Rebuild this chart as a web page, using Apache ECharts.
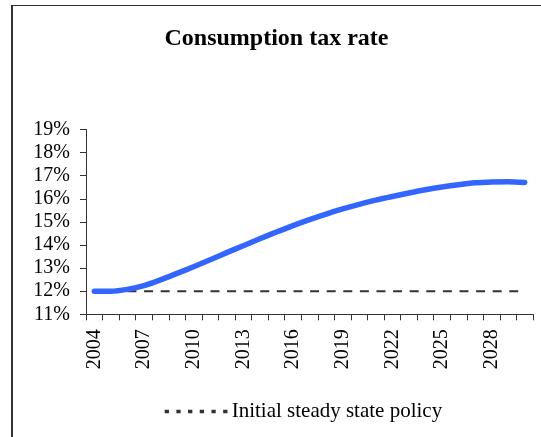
<!DOCTYPE html>
<html>
<head>
<meta charset="utf-8">
<script src="https://cdn.jsdelivr.net/npm/echarts@6/dist/echarts.min.js"></script>
<style>
  html, body { margin: 0; padding: 0; background: #fff; }
  #wrap { position: relative; width: 541px; height: 437px; overflow: hidden; }
  #chart { position: absolute; left: 0; top: 0; width: 541px; height: 437px; }
  #frame { position: absolute; left: 11px; top: 5px; width: 600px; height: 600px;
           border-left: 2px solid #333; border-top: 1px solid #333; pointer-events: none; }
</style>
</head>
<body>
<div id="wrap">
  <div id="chart"></div>
  <div id="frame"></div>
</div>
<script>
// ---- data ----
const chartTitle = 'Consumption tax rate';
const years = ['2004','2005','2006','2007','2008','2009','2010','2011','2012','2013',
               '2014','2015','2016','2017','2018','2019','2020','2021','2022','2023',
               '2024','2025','2026','2027','2028','2029','2030'];
const taxRate = [12.0, 12.0, 12.08, 12.24, 12.49, 12.77, 13.06, 13.36, 13.67, 13.97,
                 14.27, 14.56, 14.84, 15.1, 15.34, 15.56, 15.76, 15.94, 16.1, 16.25,
                 16.39, 16.51, 16.61, 16.69, 16.73, 16.74, 16.71];
const steadyName = 'Initial steady state policy';
const steadyRate = years.map(() => 12.0);
const yMin = 11, yMax = 19, yStep = 1;

const chart = echarts.init(document.getElementById('chart'), null, { renderer: 'canvas' });
const serif = 'Liberation Serif';
chart.setOption({
  animation: false,
  backgroundColor: '#fff',
  title: {
    text: chartTitle,
    left: 271.5,
    textAlign: 'center',
    top: 22,
    textStyle: { fontFamily: serif, fontSize: 24, fontWeight: 'bold', color: '#000' }
  },
  grid: { left: 86, right: 8, top: 129.5, bottom: 122.7, containLabel: false },
  legend: {
    data: [steadyName],
    left: 158,
    top: 396,
    itemWidth: 64,
    itemHeight: 14,
    itemGap: 10,
    textStyle: { fontFamily: serif, fontSize: 21, color: '#000', padding: [0, 0, 0, -2] },
    itemStyle: { opacity: 0 },
    lineStyle: { type: [4.3, 7.4], width: 3.3, color: '#333', cap: 'butt' }
  },
  xAxis: {
    type: 'category',
    data: years,
    boundaryGap: true,
    axisLine: { lineStyle: { color: '#333', width: 1 } },
    axisTick: { show: true, interval: 0, length: 6, inside: false, lineStyle: { color: '#333' } },
    axisLabel: { interval: 2, rotate: 90, margin: 15, fontFamily: serif, fontSize: 20, color: '#000' },
    splitLine: { show: false }
  },
  yAxis: {
    type: 'value',
    min: yMin, max: yMax, interval: yStep,
    axisLine: { show: true, lineStyle: { color: '#333', width: 1 } },
    axisTick: { show: true, length: 6, lineStyle: { color: '#333' } },
    axisLabel: { formatter: '{value}%', margin: 16, fontFamily: serif, fontSize: 20, color: '#000' },
    splitLine: { show: false }
  },
  series: [
    {
      name: steadyName,
      type: 'line',
      data: steadyRate,
      symbol: 'none',
      z: 1,
      lineStyle: { color: '#333', width: 2, type: [9, 7.6] }
    },
    {
      name: chartTitle,
      type: 'line',
      data: taxRate,
      symbol: 'none',
      smooth: 0.3,
      z: 2,
      lineStyle: { color: '#3366FF', width: 5.5, cap: 'round', join: 'round' }
    }
  ]
});
</script>
</body>
</html>
